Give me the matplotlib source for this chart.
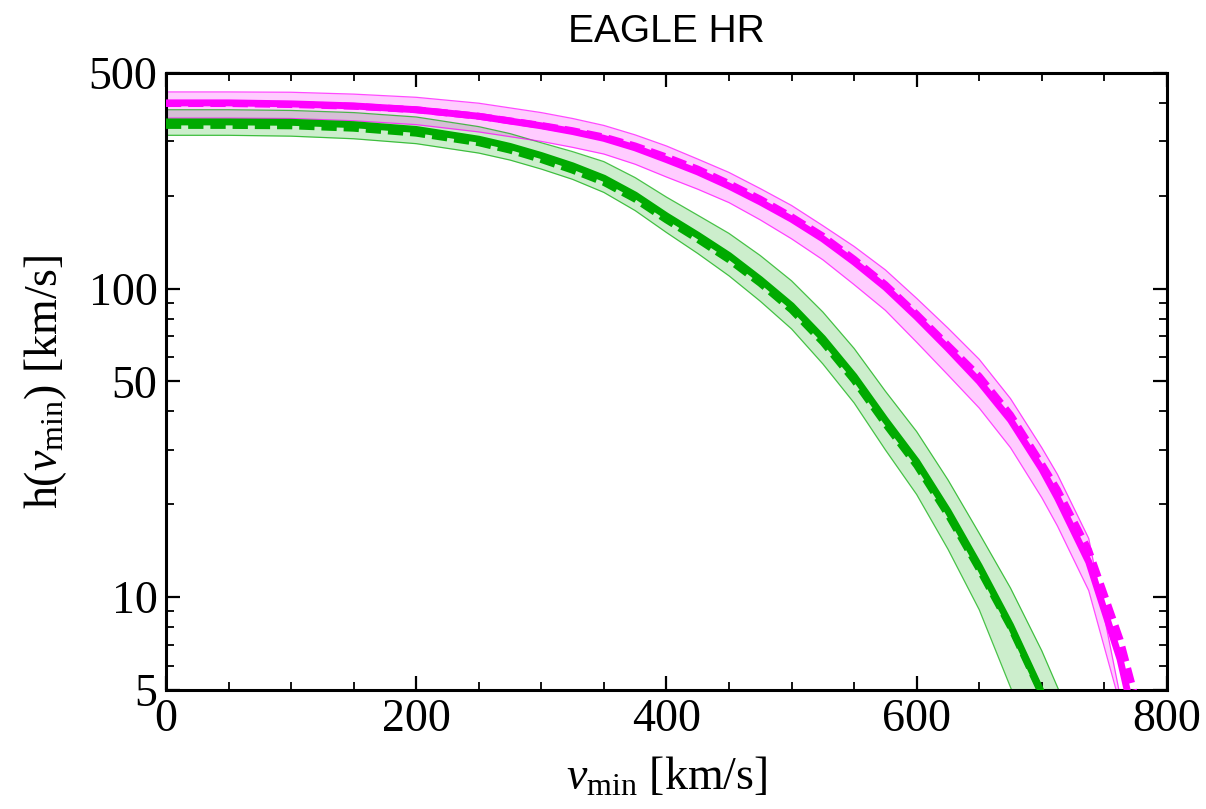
import numpy as np
import matplotlib
matplotlib.use("Agg")
import matplotlib.pyplot as plt
from matplotlib.ticker import FixedLocator, NullFormatter, FixedFormatter

plt.rcParams.update({
    "font.family": "Liberation Serif",
    "mathtext.fontset": "custom",
    "mathtext.rm": "Liberation Serif",
    "mathtext.it": "Liberation Serif:italic",
})

MAGENTA = "#ff00ff"
GREEN = "#00aa00"

# ── magenta curve ──────────────────────────────────────────
v_mag = [0, 50, 100, 150, 200, 250, 300, 325, 350, 375, 400, 425, 450, 475,
         500, 525, 550, 575, 600, 625, 650, 675, 700, 712.5, 737.5, 762.5, 775]
mag_solid = [400, 400, 397, 391, 380, 362, 337, 323, 307, 286, 262, 239, 215, 191,
             168, 145, 122, 101, 81, 64, 50, 37.5, 26, 21, 13, 6.3, 3.8]
mag_dash = [398, 398, 395, 390, 380, 362, 338, 325, 310, 290, 267, 244, 219, 195,
            171, 148, 124.5, 103, 82.6, 65.5, 52, 39, 27, 22.3, 14.2, 7.3, 4.7]
mag_hi = [434, 434, 433, 427, 417, 399, 372, 356, 338, 315, 290, 263, 238, 211,
          186, 160, 137, 115, 93, 74.5, 59, 44, 30.5, 25, 15.5, 4.8, 2.5]
mag_lo = [357, 357, 356, 350, 340, 322, 300, 287, 273, 253, 230, 210, 190, 167,
          145, 124, 103, 85, 67, 52.5, 41, 30.5, 21, 17, 10.5, 4.5, 2.5]

# ── green curve ───────────────────────────────────────────
v_grn = [0, 50, 100, 150, 200, 250, 275, 300, 325, 350, 375, 400, 425, 450,
         475, 500, 525, 550, 575, 600, 625, 650, 675, 700, 725]
grn_solid = [347, 347, 346, 340, 328, 305, 289, 270, 250, 228, 201, 172, 149, 128,
             107, 88, 69, 52, 37.5, 27.5, 19, 12.6, 8.1, 4.9, 2.8]
grn_dash = [338, 338, 337, 331, 319, 297, 281, 262, 242, 221, 195, 167, 144.5, 124,
            104, 85.3, 67, 50.4, 36.4, 26.7, 18.5, 12.3, 8.0, 4.85, 2.8]
grn_hi = [380, 380, 378, 372, 360, 335, 318, 297, 278, 258, 229, 198, 173, 151,
          128, 106, 84, 64, 46.5, 34.4, 24, 16.1, 10.7, 6.7, 3.9]
grn_lo = [314, 314, 312, 306, 295, 275, 261, 244, 226, 205, 179, 152, 130, 110,
          91, 74, 57, 42.6, 30, 21.5, 14.3, 9.1, 5.1, 2.9, 1.7]

x_major = [0, 200, 400, 600, 800]
x_minor = [50, 100, 150, 250, 300, 350, 450, 500, 550, 650, 700, 750]
y_major = [5, 10, 50, 100, 500]
y_minor = [6, 7, 8, 9, 20, 30, 40, 60, 70, 80, 90, 200, 300, 400]

fig = plt.figure(figsize=(12.06, 8.09), dpi=100)
ax = fig.add_axes([0.1376, 0.1471, 0.830, 0.7627])

# bands
for v, lo, hi, c in [(v_grn, grn_lo, grn_hi, GREEN), (v_mag, mag_lo, mag_hi, MAGENTA)]:
    ax.fill_between(v, lo, hi, color=c, alpha=0.2, lw=0, zorder=1)
    ax.plot(v, hi, color=c, lw=0.9, alpha=0.7, zorder=2)
    ax.plot(v, lo, color=c, lw=0.9, alpha=0.7, zorder=2)

# central lines
ax.plot(v_grn, grn_dash, color=GREEN, lw=5, dashes=(2.2, 1.0), zorder=3)
ax.plot(v_grn, grn_solid, color=GREEN, lw=5, zorder=3)
ax.plot(v_mag, mag_dash, color=MAGENTA, lw=5, dashes=(2.2, 1.0), zorder=4)
ax.plot(v_mag, mag_solid, color=MAGENTA, lw=5, zorder=4)

ax.set_yscale("log")
ax.set_xlim(0, 800)
ax.set_ylim(5, 500)

ax.xaxis.set_major_locator(FixedLocator(x_major))
ax.xaxis.set_minor_locator(FixedLocator(x_minor))
ax.yaxis.set_major_locator(FixedLocator(y_major))
ax.yaxis.set_major_formatter(FixedFormatter([str(t) for t in y_major]))
ax.yaxis.set_minor_locator(FixedLocator(y_minor))
ax.yaxis.set_minor_formatter(NullFormatter())

ax.tick_params(which="both", direction="in", top=True, right=True,
               labelsize=33, pad=6)
ax.tick_params(which="major", length=10, width=1.6)
ax.tick_params(which="minor", length=6, width=1.3)
for s in ax.spines.values():
    s.set_linewidth(2.2)

ax.set_xlabel(r"$v_{\mathrm{min}}$ [km/s]", fontsize=33, labelpad=11)
ax.set_ylabel(r"h($v_{\mathrm{min}}$) [km/s]", fontsize=33, labelpad=14)
ax.set_title("EAGLE HR", fontsize=28, family="Liberation Sans", pad=22)

fig.savefig("out.png", dpi=100)
